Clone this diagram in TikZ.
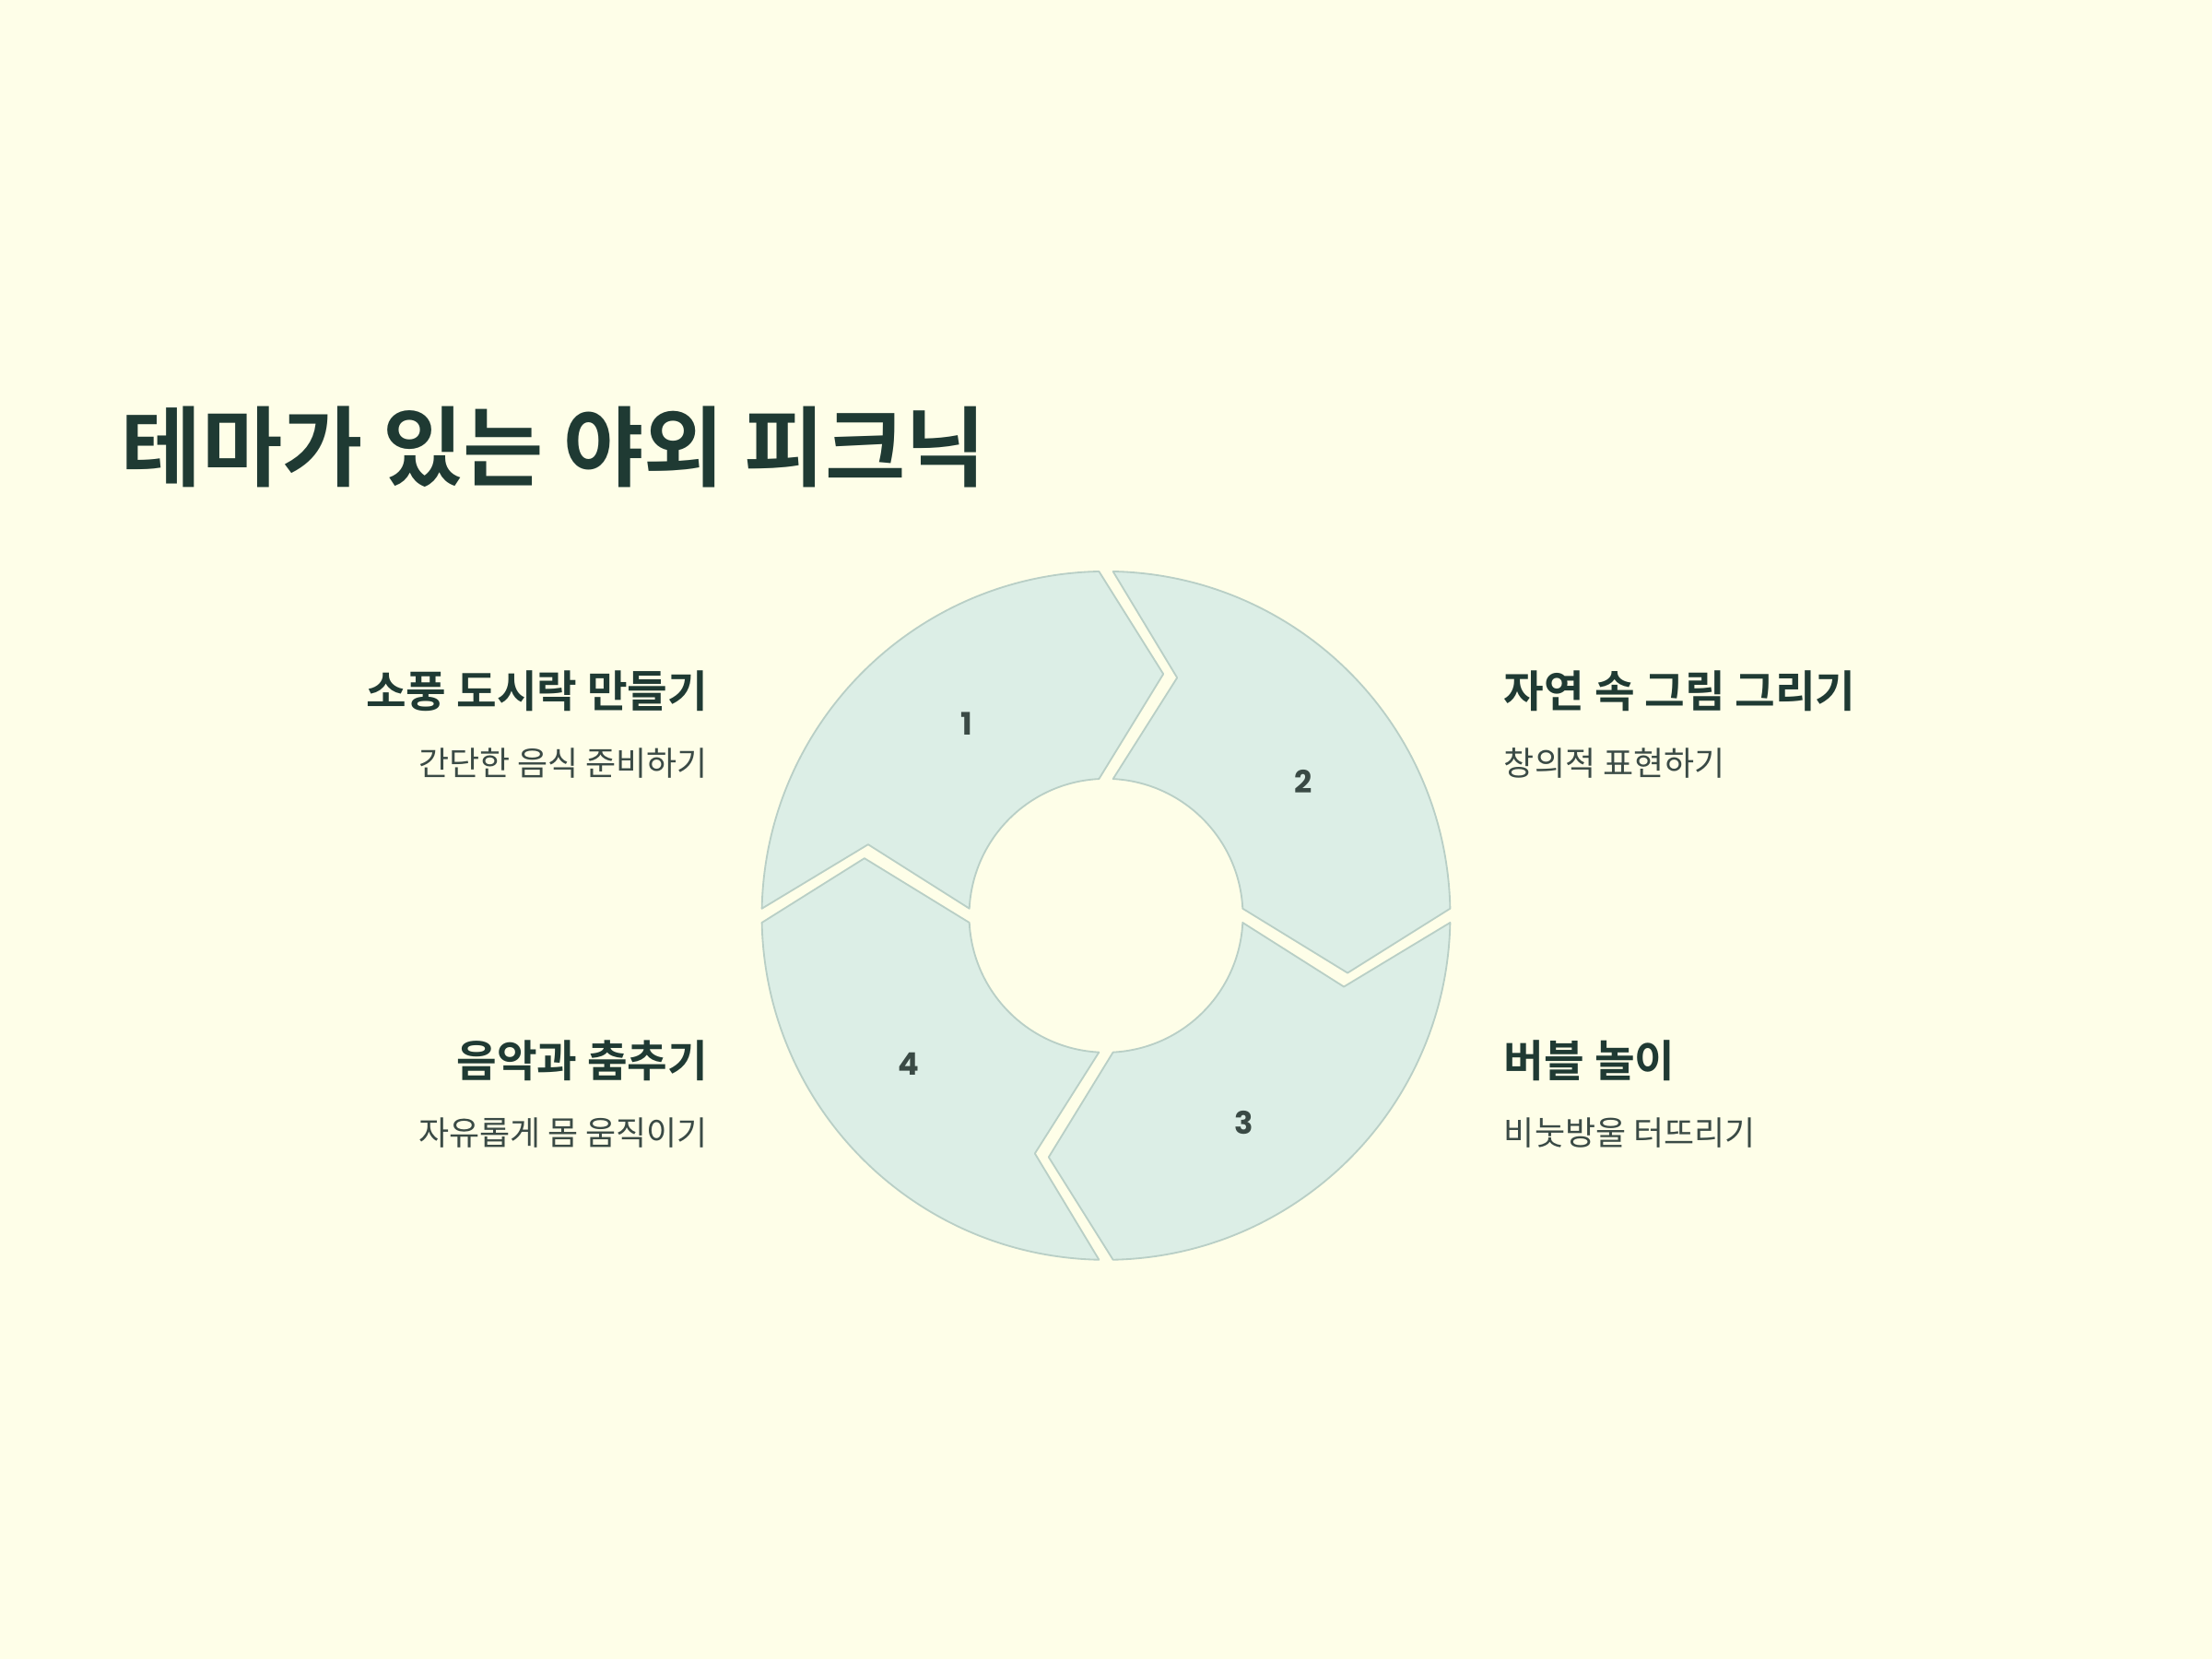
\documentclass[tikz,border=0pt]{standalone}
\usepackage{fontspec}
\newfontfamily\krb{Noto Sans CJK KR Bold}
\newfontfamily\kr{Noto Sans CJK KR}
\newfontfamily\numf{Poppins}
\definecolor{bg}{HTML}{FEFEE8}
\definecolor{ttl}{HTML}{1F3A33}
\definecolor{segf}{HTML}{DCEEE6}
\definecolor{segd}{HTML}{B9CFC6}
\definecolor{subc}{HTML}{3A4A45}
\begin{document}
\begin{tikzpicture}[x=1pt,y=1pt,
  seg/.style={fill=segf,draw=segd,line width=1.2pt},
  head/.style={font=\krb\fontsize{31}{36}\selectfont,text=ttl,inner sep=0pt},
  sub/.style={font=\kr\fontsize{23.5}{28}\selectfont,text=subc,inner sep=0pt},
  num/.style={font=\numf\bfseries\fontsize{22}{26}\selectfont,text=subc,inner sep=0pt}]
\fill[bg] (0,0) rectangle (1568,1176);
\useasboundingbox (0,0) rectangle (1568,1176);
\node[anchor=west,font=\krb\fontsize{62}{70}\selectfont,text=ttl,inner sep=0pt] (title) at (86,859) {테마가 있는 야외 피크닉};
\begin{scope}[shift={(784,527)}]
\def\R{244}\def\r{97}\def\T{176}
\foreach \s in {180,90,0,-90}{
  \pgfmathsetmacro\e{\s-90}
  \pgfmathsetmacro\ao{\s-1.17}\pgfmathsetmacro\bo{\e+1.17}
  \pgfmathsetmacro\at{\s-15-1.65}\pgfmathsetmacro\bt{\e-15+1.65}
  \pgfmathsetmacro\ai{\s-2.95}\pgfmathsetmacro\bi{\e+2.95}
  \draw[seg,line join=round] (\ao:\R) arc[start angle=\ao,end angle=\bo,radius=\R]
    -- (\bt:\T) -- (\bi:\r) arc[start angle=\bi,end angle=\ai,radius=\r]
    -- (\at:\T) -- cycle;
}
\end{scope}
\node[num] (n1) at (685,663) {1};
\node[num] (n2) at (924,622) {2};
\node[num] (n3) at (882,380) {3};
\node[num] (n4) at (644,422) {4};
\node[head,anchor=east] (h1) at (502,686) {소풍 도시락 만들기};
\node[sub,anchor=east] (s1) at (502,635) {간단한 음식 준비하기};
\node[head,anchor=east] (h4) at (502,424) {음악과 춤추기};
\node[sub,anchor=east] (s4) at (502,373) {자유롭게 몸 움직이기};
\node[head,anchor=west] (h2) at (1066,686) {자연 속 그림 그리기};
\node[sub,anchor=west] (s2) at (1066,635) {창의적 표현하기};
\node[head,anchor=west] (h3) at (1066,424) {버블 놀이};
\node[sub,anchor=west] (s3) at (1066,373) {비눗방울 터뜨리기};
\end{tikzpicture}
\end{document}
